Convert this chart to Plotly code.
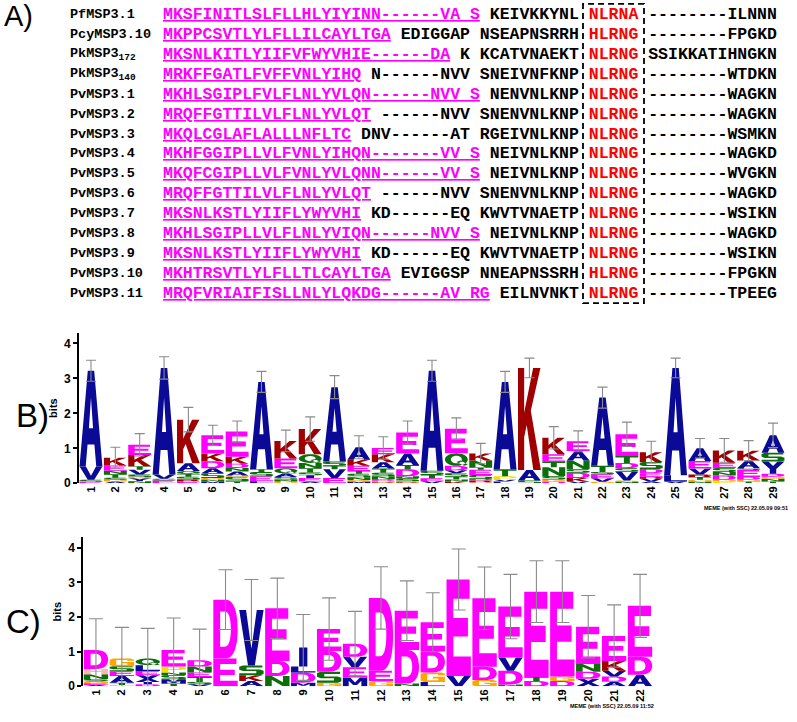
import plotly.graph_objects as go

# ---------------- data: panel A alignment ----------------
names = ["PfMSP3.1", "PcyMSP3.10", "PkMSP3<sub>172</sub>", "PkMSP3<sub>140</sub>",
         "PvMSP3.1", "PvMSP3.2", "PvMSP3.3", "PvMSP3.4", "PvMSP3.5", "PvMSP3.6",
         "PvMSP3.7", "PvMSP3.8", "PvMSP3.9", "PvMSP3.10", "PvMSP3.11"]
signal = ["MKSFINITLSLFLLHLYIYINN------VA S", "MKPPCSVTLYLFLLILCAYLTGA",
          "MKSNLKITLYIIFVFWYVHIE------DA", "MRKFFGATLFVFFVNLYIHQ",
          "MKHLSGIPLFVLFLNLYVLQN------NVV S", "MRQFFGTTILVLFLNLYVLQT",
          "MKQLCGLAFLALLLNFLTC", "MKHFGGIPLLVLFVNLYIHQN-------VV S",
          "MKQFCGIPLLVLFVNLYVLQNN------VV S", "MRQFFGTTILVLFLNLYVLQT",
          "MKSNLKSTLYIIFLYWYVHI", "MKHLSGIPLLVLFLNLYVIQN------NVV S",
          "MKSNLKSTLYIIFLYWYVHI", "MKHTRSVTLYLFLLTLCAYLTGA",
          "MRQFVRIAIFISLLNLYLQKDG------AV RG"]
linker = ["KEIVKKYNL", "EDIGGAP NSEAPNSRRH", "K KCATVNAEKT", "N------NVV SNEIVNFKNP",
          "NENVNLKNP", "------NVV SNENVNLKNP", "DNV------AT RGEIVNLKNP", "NEIVNLKNP",
          "NEIVNLKNP", "------NVV SNENVNLKNP", "KD------EQ KWVTVNAETP", "NEIVNLKNP",
          "KD------EQ KWVTVNAETP", "EVIGGSP NNEAPNSSRH", "EILNVNKT"]
motif = ["NLRNA", "HLRNG", "NLRNG", "NLRNG", "NLRNG", "NLRNG", "NLRNG", "NLRNG",
         "NLRNG", "NLRNG", "NLRNG", "NLRNG", "NLRNG", "HLRNG", "NLRNG"]
tail = ["--------ILNNN", "--------FPGKD", "SSIKKATIHNGKN", "--------WTDKN",
        "--------WAGKN", "--------WAGKN", "--------WSMKN", "--------WAGKD",
        "--------WVGKN", "--------WAGKD", "--------WSIKN", "--------WAGKD",
        "--------WSIKN", "--------FPGKN", "--------TPEEG"]

# ---------------- data: panel B logo (bottom -> top) ----------------
b_letters = ["ESVA", "AGSTNEK", "NYGSVTKE", "ESVA", "ERSTQAK", "MNGSADKE", "TSGANDKE",
             "LESTA", "GNSAQEK", "AEISTNQK", "EVTSA", "MGNSTEKA", "RGDNSTAKE",
             "RGSNDTAE", "VETSA", "KNTSVDQE", "GRDSETNK", "LVPTA", "SAK", "DGSNTEK",
             "VKDSNAE", "GVESTA", "NGVSDTE", "AVREDSK", "VLA", "NGTRVEA", "PGDNSEK",
             "TGDESAK", "TNGDYSA"]
b_heights = [[0.04, 0.06, 0.38, 2.74], [0.05, 0.05, 0.06, 0.1, 0.1, 0.15, 0.22],
             [0.06, 0.08, 0.04, 0.07, 0.14, 0.1, 0.32, 0.29], [0.08, 0.05, 0.12, 3.05],
             [0.06, 0.05, 0.08, 0.08, 0.08, 0.22, 1.25],
             [0.05, 0.06, 0.04, 0.14, 0.14, 0.2, 0.22, 0.52],
             [0.05, 0.14, 0.03, 0.12, 0.1, 0.12, 0.2, 0.72], [0.06, 0.14, 0.12, 0.08, 2.5],
             [0.05, 0.05, 0.08, 0.1, 0.15, 0.28, 0.5],
             [0.05, 0.1, 0.08, 0.08, 0.12, 0.15, 0.25, 0.72], [0.15, 0.25, 0.1, 0.12, 2.13],
             [0.05, 0.04, 0.08, 0.1, 0.08, 0.15, 0.17, 0.36],
             [0.03, 0.04, 0.05, 0.08, 0.1, 0.12, 0.18, 0.23, 0.18],
             [0.03, 0.03, 0.08, 0.06, 0.2, 0.12, 0.33, 0.6], [0.06, 0.08, 0.1, 0.12, 2.86],
             [0.05, 0.06, 0.08, 0.1, 0.08, 0.13, 0.36, 0.7],
             [0.03, 0.05, 0.04, 0.12, 0.15, 0.06, 0.2, 0.2], [0.05, 0.05, 0.1, 0.2, 2.5],
             [0.08, 0.3, 2.92], [0.05, 0.06, 0.1, 0.25, 0.15, 0.22, 0.47],
             [0.05, 0.1, 0.15, 0.1, 0.25, 0.27, 0.28], [0.04, 0.1, 0.12, 0.06, 0.18, 1.95],
             [0.05, 0.03, 0.25, 0.1, 0.15, 0.2, 0.62], [0.05, 0.08, 0.06, 0.1, 0.12, 0.2, 0.28],
             [0.05, 0.18, 3.07], [0.05, 0.05, 0.08, 0.07, 0.17, 0.22, 0.36],
             [0.06, 0.04, 0.12, 0.1, 0.12, 0.15, 0.35], [0.05, 0.05, 0.08, 0.2, 0.05, 0.22, 0.28],
             [0.05, 0.08, 0.06, 0.08, 0.35, 0.25, 0.5]]
b_err = [0.3, 0.3, 0.32, 0.32, 0.35, 0.29, 0.3, 0.3, 0.31, 0.35, 0.33, 0.33, 0.32, 0.33, 0.3,
         0.31, 0.29, 0.3, 0.28, 0.32, 0.3, 0.3, 0.35, 0.31, 0.28, 0.28, 0.34, 0.29, 0.35]

# ---------------- data: panel C logo (bottom -> top) ----------------
c_letters = ["AEGSNHD", "PTAESG", "DIXELQ", "TMSNPE", "VSTEND", "ED", "AKSV", "NDE", "MDLI",
             "GSDE", "MEVD", "GED", "NDE", "LGDE", "VE", "GDE", "NDVE", "DTE", "DGE", "XDNE",
             "ADVKE", "ADE"]
c_heights = [[0.04, 0.05, 0.06, 0.06, 0.14, 0.15, 0.55], [0.04, 0.06, 0.2, 0.13, 0.15, 0.22],
             [0.06, 0.06, 0.2, 0.12, 0.17, 0.19], [0.08, 0.12, 0.12, 0.08, 0.17, 0.48],
             [0.06, 0.06, 0.15, 0.13, 0.17, 0.18], [0.8, 1.7], [0.15, 0.17, 0.28, 1.6],
             [0.3, 0.43, 1.52], [0.1, 0.3, 0.17, 0.55], [0.1, 0.32, 0.6, 0.63],
             [0.25, 0.3, 0.3, 0.38], [0.15, 0.3, 2.1], [0.08, 0.97, 1.13],
             [0.12, 0.28, 0.6, 0.85], [0.3, 2.78], [0.18, 0.38, 1.98], [0.05, 0.4, 0.38, 1.47],
             [0.15, 0.12, 2.46], [0.15, 0.13, 2.45], [0.22, 0.2, 0.22, 1.08],
             [0.13, 0.15, 0.17, 0.28, 0.72], [0.33, 0.52, 1.47]]
c_err = [0.9, 0.9, 0.87, 0.92, 0.9, 0.86, 0.88, 0.87, 0.95, 0.9, 0.93, 0.9, 0.86, 0.85, 0.88,
         0.9, 0.93, 0.89, 0.89, 0.9, 0.9, 0.91]

# residue colours (MEME style)
BLUE, RED, MAG, GREEN = "#0a0a96", "#a00000", "#ff00ff", "#0b6e0b"
colors = {"A": BLUE, "C": BLUE, "F": BLUE, "I": BLUE, "L": BLUE, "V": BLUE, "W": BLUE,
          "M": BLUE, "Y": BLUE, "X": BLUE, "K": RED, "R": RED, "D": MAG, "E": MAG,
          "N": GREEN, "Q": GREEN, "S": GREEN, "T": GREEN, "G": "#ffa500", "H": "#ffb3b3",
          "P": "#f0e000"}

# letter outlines in a unit box; 2-tuples are line points, 6-tuples cubic curves
_O = [[(0, 0.5), (0, 0.776, 0.224, 1, 0.5, 1), (0.776, 1, 1, 0.776, 1, 0.5),
       (1, 0.224, 0.776, 0, 0.5, 0), (0.224, 0, 0, 0.224, 0, 0.5)],
      [(0.26, 0.5), (0.26, 0.334, 0.367, 0.2, 0.5, 0.2), (0.633, 0.2, 0.74, 0.334, 0.74, 0.5),
       (0.74, 0.666, 0.633, 0.8, 0.5, 0.8), (0.367, 0.8, 0.26, 0.666, 0.26, 0.5)]]
GLYPHS = {
    "A": [[(0, 0), (0.36, 1), (0.64, 1), (1, 0), (0.73, 0), (0.65, 0.23), (0.35, 0.23), (0.27, 0)],
          [(0.41, 0.4), (0.59, 0.4), (0.5, 0.72)]],
    "K": [[(0, 0), (0, 1), (0.27, 1), (0.27, 0.56), (0.66, 1), (0.98, 1), (0.56, 0.58), (1, 0),
           (0.67, 0), (0.38, 0.44), (0.27, 0.32), (0.27, 0)]],
    "E": [[(0, 0), (0, 1), (0.95, 1), (0.95, 0.8), (0.28, 0.8), (0.28, 0.6), (0.88, 0.6),
           (0.88, 0.41), (0.28, 0.41), (0.28, 0.2), (1, 0.2), (1, 0)]],
    "F": [[(0, 0), (0, 1), (1, 1), (1, 0.8), (0.28, 0.8), (0.28, 0.6), (0.88, 0.6),
           (0.88, 0.41), (0.28, 0.41), (0.28, 0)]],
    "D": [[(0, 0), (0, 1), (0.5, 1), (0.86, 1, 1, 0.78, 1, 0.5), (1, 0.22, 0.86, 0, 0.5, 0)],
          [(0.28, 0.2), (0.47, 0.2), (0.64, 0.2, 0.72, 0.32, 0.72, 0.5),
           (0.72, 0.68, 0.64, 0.8, 0.47, 0.8), (0.28, 0.8)]],
    "V": [[(0, 1), (0.28, 1), (0.5, 0.3), (0.72, 1), (1, 1), (0.64, 0), (0.36, 0)]],
    "N": [[(0, 0), (0, 1), (0.27, 1), (0.73, 0.38), (0.73, 1), (1, 1), (1, 0), (0.73, 0),
           (0.27, 0.62), (0.27, 0)]],
    "T": [[(0.37, 0), (0.37, 0.8), (0, 0.8), (0, 1), (1, 1), (1, 0.8), (0.63, 0.8), (0.63, 0)]],
    "S": [[(0, 0), (0.85, 0), (1, 0.12), (1, 0.45), (0.85, 0.58), (0.3, 0.58), (0.3, 0.8),
           (0.95, 0.8), (0.95, 1), (0.15, 1), (0, 0.88), (0, 0.55), (0.15, 0.42), (0.7, 0.42),
           (0.7, 0.2), (0, 0.2)]],
    "G": [[(0.15, 0), (1, 0), (1, 0.55), (0.5, 0.55), (0.5, 0.38), (0.73, 0.38), (0.73, 0.2),
           (0.27, 0.2), (0.27, 0.8), (0.72, 0.8), (0.72, 0.7), (1, 0.7), (1, 0.85), (0.85, 1),
           (0.15, 1), (0, 0.85), (0, 0.15)]],
    "C": [[(0.15, 0), (0.85, 0), (1, 0.15), (1, 0.3), (0.73, 0.3), (0.73, 0.2), (0.27, 0.2),
           (0.27, 0.8), (0.73, 0.8), (0.73, 0.7), (1, 0.7), (1, 0.85), (0.85, 1), (0.15, 1),
           (0, 0.85), (0, 0.15)]],
    "L": [[(0, 0), (0, 1), (0.3, 1), (0.3, 0.2), (1, 0.2), (1, 0)]],
    "I": [[(0.33, 0), (0.33, 1), (0.67, 1), (0.67, 0)]],
    "P": [[(0, 0), (0, 1), (0.75, 1), (1, 0.85), (1, 0.55), (0.75, 0.4), (0.28, 0.4), (0.28, 0)],
          [(0.28, 0.58), (0.68, 0.58), (0.74, 0.7), (0.68, 0.82), (0.28, 0.82)]],
    "R": [[(0, 0), (0, 1), (0.75, 1), (1, 0.85), (1, 0.6), (0.85, 0.47), (1, 0), (0.72, 0),
           (0.58, 0.42), (0.28, 0.42), (0.28, 0)],
          [(0.28, 0.6), (0.66, 0.6), (0.72, 0.7), (0.66, 0.82), (0.28, 0.82)]],
    "H": [[(0, 0), (0, 1), (0.28, 1), (0.28, 0.6), (0.72, 0.6), (0.72, 1), (1, 1), (1, 0),
           (0.72, 0), (0.72, 0.4), (0.28, 0.4), (0.28, 0)]],
    "Y": [[(0.36, 0), (0.36, 0.4), (0, 1), (0.3, 1), (0.5, 0.63), (0.7, 1), (1, 1),
           (0.64, 0.4), (0.64, 0)]],
    "X": [[(0, 0), (0.35, 0.5), (0.02, 1), (0.32, 1), (0.5, 0.7), (0.68, 1), (0.98, 1),
           (0.65, 0.5), (1, 0), (0.7, 0), (0.5, 0.3), (0.3, 0)]],
    "M": [[(0, 0), (0, 1), (0.3, 1), (0.5, 0.45), (0.7, 1), (1, 1), (1, 0), (0.76, 0),
           (0.76, 0.65), (0.58, 0.15), (0.42, 0.15), (0.24, 0.65), (0.24, 0)]],
    "W": [[(0, 1), (0.2, 1), (0.3, 0.35), (0.42, 1), (0.58, 1), (0.7, 0.35), (0.8, 1), (1, 1),
           (0.82, 0), (0.6, 0), (0.5, 0.55), (0.4, 0), (0.18, 0)]],
    "O": _O,
    "Q": _O + [[(0.5, 0.3), (0.68, 0.42), (1, 0.1), (0.84, 0)]],
}


def glyph_path(letter, xc, w, y0, h):
    x0 = xc - w / 2
    parts = []
    for contour in GLYPHS[letter]:
        for i, p in enumerate(contour):
            pts = " ".join(f"{x0 + p[j] * w:.4f},{y0 + p[j + 1] * h:.4f}"
                           for j in range(0, len(p), 2))
            cmd = "M" if i == 0 else ("C" if len(p) == 6 else "L")
            parts.append(cmd + pts)
        parts.append("Z")
    return " ".join(parts)


def logo_shapes(letters, heights, xref, yref, w=0.94):
    shapes, tops = [], []
    for pos, (seq, hs) in enumerate(zip(letters, heights), start=1):
        y = 0.0
        for let, h in zip(seq, hs):
            shapes.append(dict(type="path", path=glyph_path(let, pos, w, y, h),
                               xref=xref, yref=yref, fillcolor=colors[let],
                               line=dict(width=0), layer="below"))
            y += h
        tops.append(y)
    return shapes, tops


W, H = 797, 722
fig = go.Figure()

shapes_b, tops_b = logo_shapes(b_letters, b_heights, "x", "y")
shapes_c, tops_c = logo_shapes(c_letters, c_heights, "x2", "y2")

err_style = dict(type="data", color="#8a8a8a", thickness=1.1)
fig.add_trace(go.Scatter(x=list(range(1, len(b_letters) + 1)), y=tops_b, mode="markers",
                         marker=dict(size=1, opacity=0), xaxis="x", yaxis="y",
                         error_y=dict(array=b_err, width=5, **err_style), hoverinfo="skip"))
fig.add_trace(go.Scatter(x=list(range(1, len(c_letters) + 1)), y=tops_c, mode="markers",
                         marker=dict(size=1, opacity=0), xaxis="x2", yaxis="y2",
                         error_y=dict(array=c_err, width=7, **err_style), hoverinfo="skip"))

bold = dict(family="Liberation Sans, Arial", size=11, color="black", weight="bold")
xcommon = dict(showgrid=False, zeroline=False, showline=False, ticks="", tickangle=-90,
               tickfont=bold)
ycommon = dict(showgrid=False, zeroline=False, showline=True, linecolor="black", linewidth=1.5,
               ticks="outside", ticklen=4, tickwidth=1.5, tickcolor="black",
               tickvals=[0, 1, 2, 3, 4], tickfont=dict(bold, size=12), range=[0, 4.3],
               title=dict(text="bits", font=dict(bold, size=11), standoff=4))

nb, nc = len(b_letters), len(c_letters)
fig.update_layout(
    width=W, height=H, margin=dict(l=0, r=0, t=0, b=0),
    paper_bgcolor="white", plot_bgcolor="white", showlegend=False,
    xaxis=dict(xcommon, domain=[78.8 / W, 785.2 / W], range=[0.5, nb + 0.5],
               tickvals=list(range(1, nb + 1)), anchor="y"),
    yaxis=dict(ycommon, domain=[1 - 488 / H, 1 - 336.2 / H], anchor="x"),
    xaxis2=dict(xcommon, domain=[83 / W, 653 / W], range=[0.5, nc + 0.5],
                tickvals=list(range(1, nc + 1)), anchor="y2"),
    yaxis2=dict(ycommon, domain=[1 - 693 / H, 1 - 542.5 / H], anchor="x2"),
    shapes=shapes_b + shapes_c,
)

# ---------------- panel A: alignment text ----------------
ann = []
mono = dict(family="Liberation Mono, Courier New", size=16.5, color="black", weight="bold")
for i in range(len(names)):
    yp = 1 - (15 + i * 20.07) / H
    ann.append(dict(x=68 / W, y=yp, xref="paper", yref="paper", xanchor="left",
                    yanchor="middle", showarrow=False, text=names[i],
                    font=dict(mono, size=13.5)))
    row = (f'<span style="color:#ff00ff"><u>{signal[i]}</u></span> {linker[i]} '
           f'<span style="color:#ff0000">{motif[i]}</span> {tail[i]}')
    ann.append(dict(x=161 / W, y=yp, xref="paper", yref="paper", xanchor="left",
                    yanchor="middle", showarrow=False, text=row, font=mono))

fig.add_shape(type="rect", xref="paper", yref="paper", x0=583 / W, x1=644 / W,
              y0=1 - 306 / H, y1=1 - 4 / H, line=dict(color="black", width=1.8, dash="6px,4px"))

label_font = dict(family="Liberation Sans, Arial", size=32, color="black")
for txt, x, y, s in [("A)", 2, 16, 29), ("B)", 14, 420, 33), ("C)", 4, 628, 33)]:
    ann.append(dict(x=x / W, y=1 - y / H, xref="paper", yref="paper", xanchor="left",
                    yanchor="middle", showarrow=False, text=txt, font=dict(label_font, size=s)))

stamp = dict(family="Liberation Sans, Arial", size=5.5, color="black", weight="bold")
ann.append(dict(x=790 / W, y=1 - 513 / H, xref="paper", yref="paper", xanchor="right",
                yanchor="middle", showarrow=False, text="MEME (with SSC) 22.05.09 09:51",
                font=stamp))
ann.append(dict(x=656 / W, y=1 - 713 / H, xref="paper", yref="paper", xanchor="right",
                yanchor="middle", showarrow=False, text="MEME (with SSC) 22.05.09 11:52",
                font=stamp))
fig.update_layout(annotations=ann)

# drop the default page margin so the figure sits at the window's top-left corner
fig.write_html("out.html", config={"displayModeBar": False},
               post_script="document.body.style.margin='0';")
